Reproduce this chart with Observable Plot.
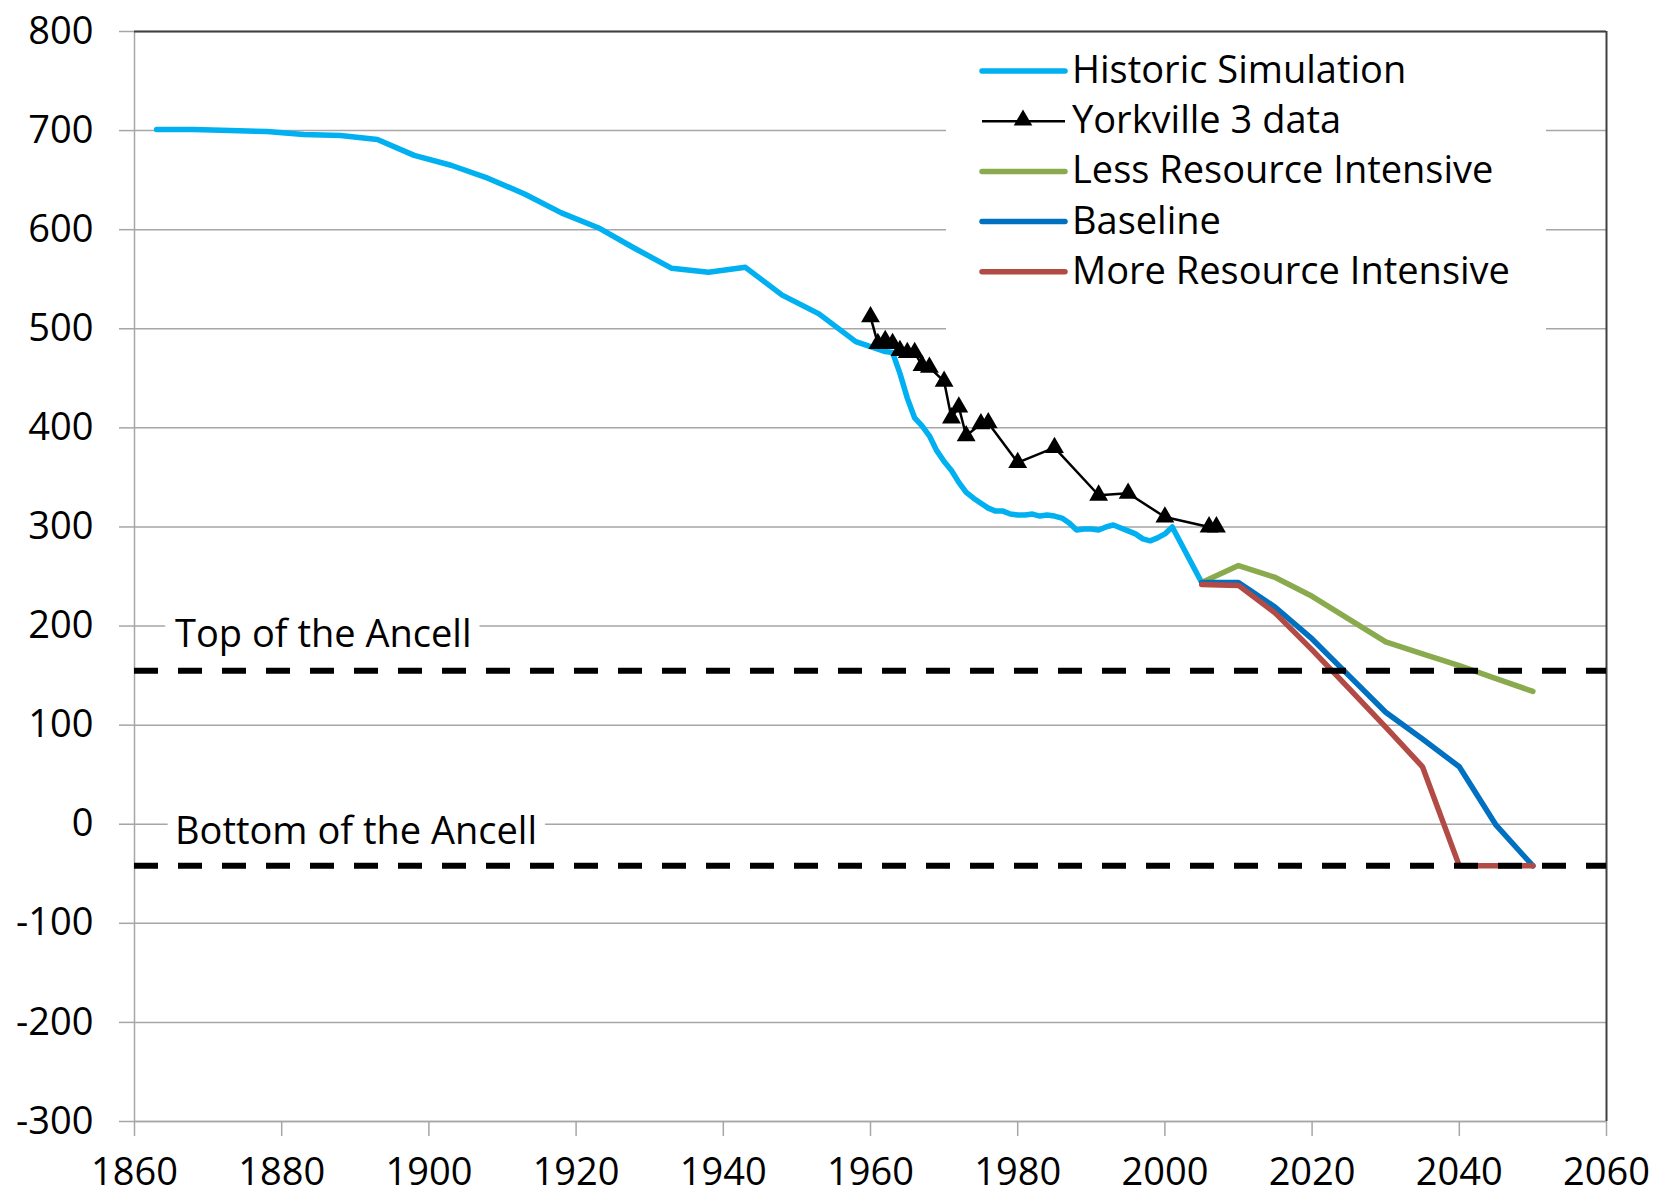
<!DOCTYPE html>
<html><head><meta charset="utf-8">
<script src="https://cdn.jsdelivr.net/npm/d3@7"></script>
<script src="https://cdn.jsdelivr.net/npm/@observablehq/plot@0.6"></script>
<style>
html,body{margin:0;padding:0;background:#fff;}
#wrap{position:relative;width:1654px;height:1195px;font-family:"Open Sans",sans-serif;}
#legend{position:absolute;left:946px;top:33px;}
</style></head><body>
<div id="wrap"><div id="chart"></div></div>
<script>
// ---- data ----
const histYears  = [1863,1868,1873,1878,1883,1888,1893,1898,1903,1908,1913,1918,1923,1928,1933,1938,1943,1948,1953,1958,1960,1962,1963,1964,1965,1966,1967,1968,1969,1970,1971,1972,1973,1974,1975,1976,1977,1978,1979,1980,1981,1982,1983,1984,1985,1986,1987,1988,1989,1990,1991,1992,1993,1994,1995,1996,1997,1998,1999,2000,2001,2005];
const histValues = [701,701,700,699,696,695,691,675,665,652,636,617,602,581,561,557,562,534,515,487,482,477,476,455,430,410,402,392,377,366,357,345,335,329,324,319,316,316,313,312,312,313,311,312,311,309,304,297,298,298,297,300,302,299,296,293,288,286,289,293,300,244];

const yorkYears  = [1960,1961,1962,1963,1964,1965,1966,1967,1968,1970,1971,1972,1973,1975,1976,1980,1985,1991,1995,2000,2006,2007];
const yorkValues = [512,485,488,485,478,476,476,463,461,447,410,421,392,404,405,365,380,332,334,310,300,300];

const scenarioYears  = [2005,2010,2015,2020,2025,2030,2035,2040,2045,2050];
const lessValues     = [244,261,249,230,207,184,172,160,147,134];
const baselineValues = [244,244,219,187,150,113,86,58,-1,-42];
const moreValues     = [242,241,213,176,137,98,58,-42,-42,-42];

const ancellLevels = [155, -42];
const annotationLabels = ["Top of the Ancell", "Bottom of the Ancell"];
const annotationX = [1865.5, 1865.5];
const annotationY = [191, -8];

const xTicks = [1860,1880,1900,1920,1940,1960,1980,2000,2020,2040,2060];
const yTicks = [800,700,600,500,400,300,200,100,0,-100,-200,-300];

const seriesNames = ["Historic Simulation","Yorkville 3 data","Less Resource Intensive","Baseline","More Resource Intensive"];
const seriesColors = ["#00b0f0","#000000","#8aab4d","#0070c0","#b24a45"];

// ---- build tables ----
const FONT = 38;
const hist = histYears.map((year, i) => ({year, value: histValues[i]}));
const york = yorkYears.map((year, i) => ({year, value: yorkValues[i]}));
const scen = [];
[["Less Resource Intensive", lessValues], ["Baseline", baselineValues], ["More Resource Intensive", moreValues]]
  .forEach(([name, vals]) => scenarioYears.forEach((year, i) => scen.push({series: name, year, value: vals[i]})));
const annotations = annotationLabels.map((label, i) => ({label, x: annotationX[i], y: annotationY[i]}));
const colorOf = Object.fromEntries(seriesNames.map((n, i) => [n, seriesColors[i]]));

const grid = "#a6a6a6";
const chart = Plot.plot({
  width: 1654, height: 1195,
  marginLeft: 134, marginRight: 48, marginTop: 31, marginBottom: 74,
  style: {fontFamily: '"Open Sans", sans-serif', background: "white", color: "black", overflow: "visible"},
  x: {domain: [1860, 2060]},
  y: {domain: [-300, 800]},
  marks: [
    Plot.gridY(yTicks, {stroke: grid, strokeOpacity: 1, strokeWidth: 1.5}),
    Plot.axisY(yTicks, {tickSize: 15, tickPadding: 26, stroke: grid, strokeWidth: 1.5, fill: "black", fontSize: FONT, tickFormat: d => String(d), label: null}),
    Plot.axisX(xTicks, {tickSize: 15, tickPadding: 22, stroke: grid, strokeWidth: 1.5, fill: "black", fontSize: FONT, tickFormat: d => String(d), label: null}),
    Plot.ruleX([1860], {stroke: grid, strokeWidth: 1.5}),
    Plot.ruleY([-300], {stroke: grid, strokeWidth: 1.5}),
    Plot.ruleY([800], {stroke: "#404040", strokeWidth: 2}),
    Plot.ruleX([2060], {stroke: "#404040", strokeWidth: 2}),
    Plot.text(annotations, {x: "x", y: "y", text: "label", textAnchor: "start", lineAnchor: "middle", fontSize: FONT, fill: "black", stroke: "white", strokeWidth: 22}),
    Plot.line(hist, {x: "year", y: "value", stroke: colorOf["Historic Simulation"], strokeWidth: 5.5, strokeLinejoin: "round"}),
    Plot.line(scen, {x: "year", y: "value", z: "series", stroke: d => colorOf[d.series], strokeWidth: 5.5, strokeLinejoin: "round"}),
    Plot.line(york, {x: "year", y: "value", stroke: "black", strokeWidth: 2.5}),
    Plot.dot(york, {x: "year", y: "value", symbol: "triangle", r: 7, fill: "black", stroke: "none"}),
    Plot.ruleY(ancellLevels, {stroke: "black", strokeWidth: 6, strokeDasharray: "24,20"})
  ]
});
document.getElementById("chart").appendChild(chart);

// ---- legend (inside plot area, white box) ----
const lg = d3.select("#wrap").append("svg").attr("id", "legend")
  .attr("width", 600).attr("height", 300)
  .style("font-family", '"Open Sans", sans-serif');
lg.append("rect").attr("width", 600).attr("height", 300).attr("fill", "white");
seriesNames.forEach((name, i) => {
  const y = 38 + i * 50.2;
  const g = lg.append("g").attr("transform", `translate(0,${y})`);
  const isYork = name === "Yorkville 3 data";
  g.append("line").attr("x1", 36).attr("x2", 119).attr("y1", 0).attr("y2", 0)
    .attr("stroke", colorOf[name]).attr("stroke-width", isYork ? 2.5 : 5.5)
    .attr("stroke-linecap", isYork ? "butt" : "round");
  if (isYork) g.append("path").attr("d", d3.symbol(d3.symbolTriangle, 150)()).attr("transform", "translate(77,-1)").attr("fill", "black");
  g.append("text").attr("x", 126).attr("y", 12).attr("font-size", FONT).attr("fill", "black").text(name);
});
</script>
</body></html>
